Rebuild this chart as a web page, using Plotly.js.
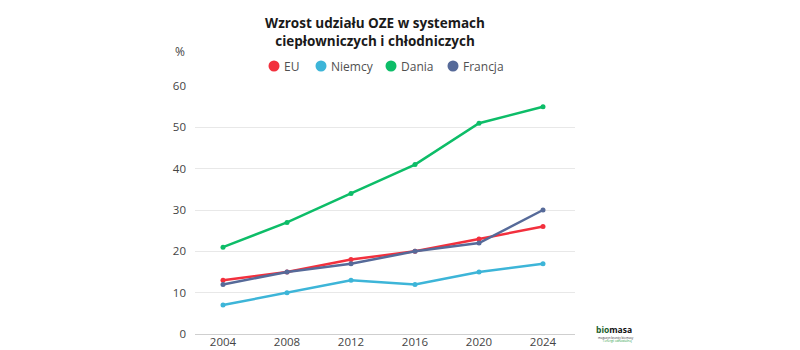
<!DOCTYPE html>
<html>
<head>
<meta charset="utf-8">
<script src="https://cdn.plot.ly/plotly-3.0.1.min.js"></script>
<style>html,body{margin:0;padding:0;background:#fff;}#chart{width:800px;height:350px;}</style>
</head>
<body>
<div id="chart"></div>
<script>
var years = [2004, 2008, 2012, 2016, 2020, 2024];
var seriesNames = ["EU", "Niemcy", "Dania", "Francja"];
var euValues = [13, 15, 18, 20, 23, 26];
var niemcyValues = [7, 10, 13, 12, 15, 17];
var daniaValues = [21, 27, 34, 41, 51, 55];
var francjaValues = [12, 15, 17, 20, 22, 30];
var yTicks = [0, 10, 20, 30, 40, 50, 60];

var colors = ["#f2303d", "#3db5d8", "#0dbd68", "#566a99"];
var values = [euValues, niemcyValues, daniaValues, francjaValues];
var drawOrder = [1, 0, 2, 3];

var M = {l: 195, r: 225, t: 86, b: 16};
var W = 800, H = 350;
var PW = W - M.l - M.r, PH = H - M.t - M.b;
function px2x(p) { return (p - M.l) / PW; }
function px2y(p) { return (H - M.b - p) / PH; }

var traces = [];
drawOrder.forEach(function (i) {
  traces.push({
    x: years, y: values[i], type: "scatter", mode: "lines+markers", name: seriesNames[i],
    line: {color: colors[i], width: 2.5},
    marker: {color: colors[i], size: 5},
    showlegend: false, hoverinfo: "x+y"
  });
});

// custom legend (circle + label), positions in pixels
var legendCircleX = [274, 321, 391, 453];
var legendY = 66;
var shapes = [];
var annotations = [];
seriesNames.forEach(function (n, i) {
  shapes.push({
    type: "circle", xref: "paper", yref: "paper", xsizemode: "pixel", ysizemode: "pixel",
    xanchor: px2x(legendCircleX[i]), yanchor: px2y(legendY),
    x0: -5.5, x1: 5.5, y0: -5.5, y1: 5.5,
    fillcolor: colors[i], line: {width: 0}
  });
  annotations.push({
    text: n, xref: "paper", yref: "paper", x: px2x(legendCircleX[i] + 8), y: px2y(legendY),
    xanchor: "left", yanchor: "middle", showarrow: false,
    font: {size: 12, color: "#505050"}
  });
});

annotations.push(
  {text: "%", xref: "paper", yref: "paper", x: px2x(187), y: px2y(51), xanchor: "right", yanchor: "middle",
   showarrow: false, font: {size: 12, color: "#444"}},
  {text: "<b><span style='color:#1b5e2b'>bio</span>masa</b>", xref: "paper", yref: "paper",
   x: px2x(594), y: px2y(329), xanchor: "left", yanchor: "middle", showarrow: false,
   font: {size: 8.5, color: "#111"}},
  {text: "magazyn branży biomasy", xref: "paper", yref: "paper",
   x: px2x(596), y: px2y(337.5), xanchor: "left", yanchor: "middle", showarrow: false,
   font: {size: 3, color: "#333"}},
  {text: "i energii odnawialnej", xref: "paper", yref: "paper",
   x: px2x(601), y: px2y(341), xanchor: "left", yanchor: "middle", showarrow: false,
   font: {size: 3, color: "#2aa04a"}}
);

var layout = {
  width: W, height: H,
  paper_bgcolor: "#fff", plot_bgcolor: "#fff",
  margin: M,
  showlegend: false,
  font: {family: "Open Sans, sans-serif", color: "#444", size: 12},
  title: {
    text: "<b>Wzrost udziału OZE w systemach<br>ciepłowniczych i chłodniczych</b>",
    font: {family: "Open Sans, sans-serif", size: 13.5, color: "#1a1a1a"},
    x: px2x(375), xref: "paper", xanchor: "center",
    y: 0.919, yref: "container", yanchor: "middle"
  },
  xaxis: {
    range: [2002.25, 2026], tickvals: years, ticktext: years.map(String),
    showgrid: false, zeroline: false, showline: false, ticks: "", automargin: false,
    tickfont: {size: 11.5, color: "#444"}, ticklabelstandoff: -1
  },
  yaxis: {
    range: [0, 60], tickvals: yTicks, showgrid: true, gridcolor: "#e8e8e8", gridwidth: 1,
    zeroline: true, zerolinecolor: "#cfcfcf", zerolinewidth: 1, showline: false, ticks: "",
    automargin: false,
    tickfont: {size: 11.5, color: "#444"}, ticklabelstandoff: 8
  },
  shapes: shapes,
  annotations: annotations
};

Plotly.newPlot("chart", traces, layout, {displayModeBar: false, staticPlot: true});
</script>
</body>
</html>
